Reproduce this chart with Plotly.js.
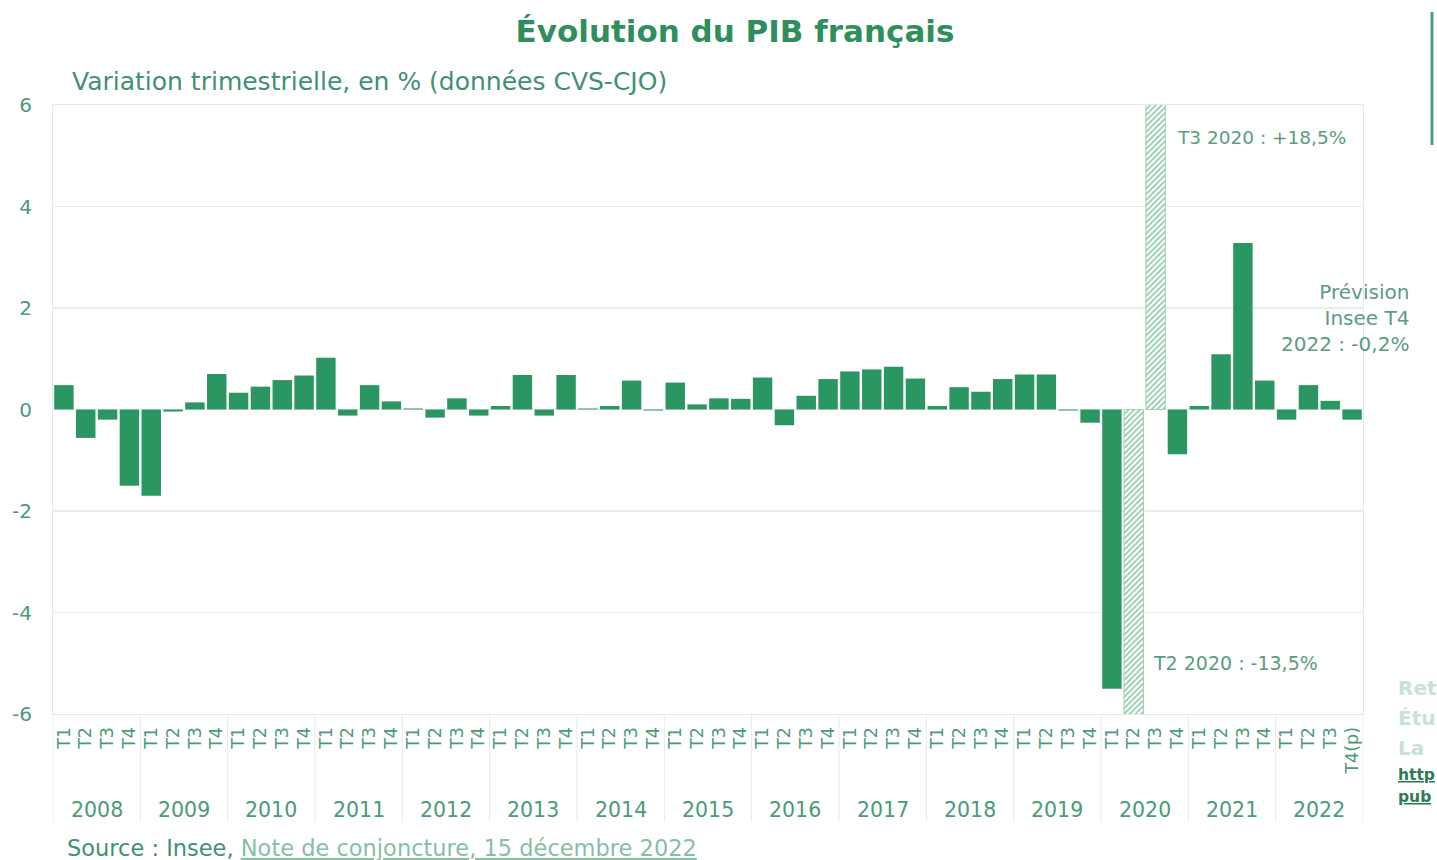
<!DOCTYPE html>
<html>
<head>
<meta charset="utf-8">
<script src="https://cdn.plot.ly/plotly-3.0.1.min.js"></script>
<style>
  html, body { margin: 0; padding: 0; background: #ffffff; overflow: hidden; }
  #chart { width: 1437px; height: 860px; }
</style>
</head>
<body>
<div id="chart"></div>
<script>
// ---- Data ----
const years = [2008, 2009, 2010, 2011, 2012, 2013, 2014, 2015, 2016, 2017, 2018, 2019, 2020, 2021, 2022];
const quarters = ["T1", "T2", "T3", "T4"];
const lastQuarterLabel = "T4(p)";
// Quarterly GDP change, % (one row of 4 values per year)
const gdp2008 = [0.48, -0.56, -0.20, -1.50];
const gdp2009 = [-1.70, -0.04, 0.14, 0.70];
const gdp2010 = [0.33, 0.45, 0.58, 0.67];
const gdp2011 = [1.02, -0.12, 0.48, 0.16];
const gdp2012 = [0.02, -0.16, 0.22, -0.12];
const gdp2013 = [0.07, 0.68, -0.12, 0.68];
const gdp2014 = [0.02, 0.07, 0.57, -0.02];
const gdp2015 = [0.53, 0.10, 0.22, 0.21];
const gdp2016 = [0.63, -0.31, 0.27, 0.60];
const gdp2017 = [0.75, 0.79, 0.84, 0.61];
const gdp2018 = [0.07, 0.44, 0.35, 0.60];
const gdp2019 = [0.69, 0.69, -0.02, -0.26];
const gdp2020 = [-5.50, -13.5, 18.5, -0.88];
const gdp2021 = [0.07, 1.09, 3.28, 0.57];
const gdp2022 = [-0.20, 0.48, 0.17, -0.20];
const gdpByYear = [gdp2008, gdp2009, gdp2010, gdp2011, gdp2012, gdp2013, gdp2014,
  gdp2015, gdp2016, gdp2017, gdp2018, gdp2019, gdp2020, gdp2021, gdp2022];
// Quarters drawn hatched (off-scale values)
const hatched = ["2020 T2", "2020 T3"];
// Y tick labels (hyphen minus as in the original)
const yTickVals = [-6, -4, -2, 0, 2, 4, 6];
const yTickLabels = ["-6", "-4", "-2", "0", "2", "4", "6"];

// ---- Build traces ----
const xIdx = [], qLabels = [], ySolid = [], yHatch = [];
years.forEach((yr, i) => {
  quarters.forEach((q, j) => {
    const k = i * quarters.length + j;
    const isLast = (i === years.length - 1 && j === quarters.length - 1);
    xIdx.push(k);
    qLabels.push(isLast ? lastQuarterLabel : q);
    const v = gdpByYear[i][j];
    const h = hatched.includes(yr + " " + q);
    ySolid.push(h ? null : v);
    yHatch.push(h ? v : null);
  });
});
const nQ = quarters.length;

const green = "#2e8f5c";
const axisGreen = "#4b9a78";
const font = "'DejaVu Sans', sans-serif";

const L = 53, R = 1363, T = 105, B = 714;
const px = x => (x - L) / (R - L);
const py = y => (B - y) / (B - T);

const solid = {
  type: "bar",
  x: xIdx,
  y: ySolid,
  marker: { color: "#2a9661", line: { width: 0 } },
  hoverinfo: "y"
};
const hatch = {
  type: "bar",
  x: xIdx,
  y: yHatch,
  marker: {
    color: "#ffffff",
    line: { color: "#9fd0b5", width: 1 },
    pattern: { shape: "/", fgcolor: "#8cc7a7", bgcolor: "#ffffff", size: 4, solidity: 0.4 }
  },
  hoverinfo: "y"
};

// Year labels and year dividers placed through the x scale
const yearAnnotations = years.map((yr, i) => ({
  text: String(yr),
  xref: "x", yref: "paper",
  x: i * nQ + (nQ - 1) / 2, y: py(810),
  xanchor: "center", yanchor: "middle", showarrow: false,
  font: { family: font, size: 20.5, color: axisGreen }
}));
const dividerShapes = [];
for (let i = 0; i <= years.length; i++) {
  dividerShapes.push({
    type: "line", xref: "x", yref: "paper",
    x0: i * nQ - 0.5, x1: i * nQ - 0.5, y0: 0, y1: py(822),
    line: { color: "#e3ebe7", width: 1 }
  });
}

const layout = {
  width: 1437,
  height: 860,
  paper_bgcolor: "#ffffff",
  plot_bgcolor: "#ffffff",
  margin: { l: L, r: 1437 - R, t: T, b: 860 - B, pad: 0 },
  barmode: "overlay",
  bargap: 0.11,
  showlegend: false,
  font: { family: font, color: axisGreen },
  title: {
    text: "<b>Évolution du PIB français</b>",
    font: { family: font, size: 31, color: green },
    xref: "container", yref: "container",
    x: 735 / 1437, xanchor: "center",
    y: 1 - 31 / 860, yanchor: "middle"
  },
  xaxis: {
    range: [-0.5, xIdx.length - 0.5],
    tickmode: "array",
    tickvals: xIdx,
    ticktext: qLabels,
    tickangle: -90,
    tickfont: { family: font, size: 17.5, color: axisGreen },
    showgrid: false,
    showline: true,
    linecolor: "#e2ebe6",
    linewidth: 1,
    mirror: true,
    ticks: "",
    zeroline: false,
    ticklabelstandoff: 5,
    fixedrange: true
  },
  yaxis: {
    range: [-6, 6],
    tickmode: "array",
    tickvals: yTickVals,
    ticktext: yTickLabels,
    tickfont: { family: font, size: 20, color: axisGreen },
    showgrid: true,
    gridcolor: "#e6eeea",
    gridwidth: 1.5,
    showline: true,
    linecolor: "#e2ebe6",
    mirror: true,
    zeroline: false,
    ticks: "",
    ticklabelstandoff: 16,
    fixedrange: true
  },
  annotations: yearAnnotations.concat([
    {
      text: "Variation trimestrielle, en % (données CVS-CJO)",
      xref: "paper", yref: "paper", x: px(70), y: py(81),
      xanchor: "left", yanchor: "middle", showarrow: false,
      font: { family: font, size: 25, color: "#3f9171" }
    },
    {
      text: "T3 2020 : +18,5%",
      xref: "paper", yref: "paper", x: px(1175), y: py(137),
      xanchor: "left", yanchor: "middle", showarrow: false,
      font: { family: font, size: 18.5, color: "#5a9c80" }
    },
    {
      text: "T2 2020 : -13,5%",
      xref: "paper", yref: "paper", x: px(1151), y: py(663),
      xanchor: "left", yanchor: "middle", showarrow: false,
      font: { family: font, size: 19, color: "#5a9c80" }
    },
    {
      text: "Prévision<br>Insee T4<br>2022 : -0,2%",
      xref: "paper", yref: "paper", x: px(1411), y: py(317.5),
      xanchor: "right", yanchor: "middle", align: "right", showarrow: false,
      font: { family: font, size: 20, color: "#5a9c80" }
    },
    {
      text: "Source : Insee, <span style='color:#86bfa2'><u>Note de conjoncture, 15 décembre 2022</u></span>",
      xref: "paper", yref: "paper", x: px(65), y: py(848),
      xanchor: "left", yanchor: "middle", showarrow: false,
      font: { family: font, size: 22.5, color: "#3f9171" }
    },
    {
      text: "<b>Ret</b>",
      xref: "paper", yref: "paper", x: px(1396), y: py(688),
      xanchor: "left", yanchor: "middle", showarrow: false,
      font: { family: font, size: 20, color: "#c8e2d4" }
    },
    {
      text: "<b>Étu</b>",
      xref: "paper", yref: "paper", x: px(1396), y: py(718),
      xanchor: "left", yanchor: "middle", showarrow: false,
      font: { family: font, size: 20, color: "#c8e2d4" }
    },
    {
      text: "<b>La</b>",
      xref: "paper", yref: "paper", x: px(1396), y: py(748),
      xanchor: "left", yanchor: "middle", showarrow: false,
      font: { family: font, size: 20, color: "#c8e2d4" }
    },
    {
      text: "<b><u>http</u></b>",
      xref: "paper", yref: "paper", x: px(1396), y: py(775),
      xanchor: "left", yanchor: "middle", showarrow: false,
      font: { family: font, size: 15.5, color: "#2c7d52" }
    },
    {
      text: "<b><u>pub</u></b>",
      xref: "paper", yref: "paper", x: px(1396), y: py(797),
      xanchor: "left", yanchor: "middle", showarrow: false,
      font: { family: font, size: 15.5, color: "#2c7d52" }
    }
  ]),
  shapes: dividerShapes.concat([
    {
      type: "line", xref: "paper", yref: "paper",
      x0: px(1432), x1: px(1432), y0: py(12), y1: py(145),
      line: { color: "#4f9d7c", width: 3 }
    }
  ])
};

Plotly.newPlot("chart", [solid, hatch], layout, { displayModeBar: false, staticPlot: true });
</script>
</body>
</html>
